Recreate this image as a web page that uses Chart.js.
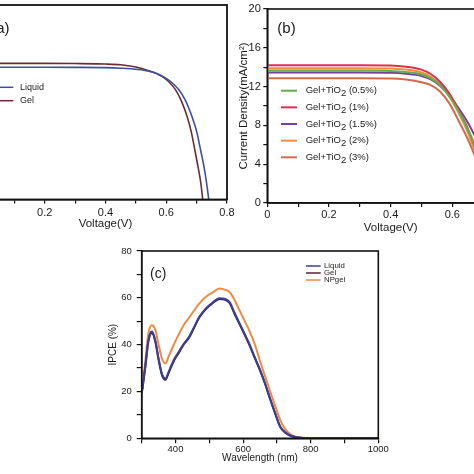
<!DOCTYPE html>
<html><head><meta charset="utf-8">
<script src="https://cdn.jsdelivr.net/npm/chart.js@4.4.1/dist/chart.umd.min.js"></script>
<style>
html,body{margin:0;padding:0;width:474px;height:474px;overflow:hidden;background:#fff}
body{position:relative}
canvas{position:absolute}
</style></head><body>
<canvas id="ca" width="307" height="232" style="left:-70px;top:0px"></canvas>
<canvas id="cb" width="299" height="240" style="left:225px;top:0px"></canvas>
<canvas id="cc" width="292" height="238" style="left:100px;top:236px"></canvas>
<script>
// ---------- Panel (a): J-V curves ----------
const voltsGelA    = [0,0.1,0.2,0.3,0.4,0.45,0.5,0.52,0.55,0.57,0.59,0.61,0.63,0.649,0.669,0.682,0.694,0.705,0.714,0.72];
const gelA         = [14.0,14.0,14.0,13.98,13.93,13.85,13.62,13.47,13.17,12.92,12.58,12.05,11.3,10.2,8.5,7.0,5.1,3.3,1.65,0];
const voltsLiquidA = [0,0.1,0.2,0.3,0.4,0.45,0.5,0.53,0.56,0.58,0.60,0.62,0.641,0.663,0.685,0.70,0.713,0.724,0.733,0.74];
const liquidA      = [13.6,13.6,13.6,13.59,13.56,13.5,13.4,13.28,13.05,12.8,12.45,11.98,11.3,10.2,8.5,7.0,5.1,3.4,1.65,0];
const seriesA = ['Liquid','Gel'];

// ---------- Panel (b): J-V curves with TiO2 ----------
const voltsB = [0,0.1,0.2,0.3,0.4,0.45,0.5,0.53,0.56,0.59,0.62,0.65,0.68,0.70,0.72,0.74];
const tio2_05 = [13.65,13.65,13.65,13.65,13.62,13.5,13.25,12.85,12.15,11.0,9.5,7.6,5.3,3.4,1.2,0];
const tio2_1  = [14.2,14.2,14.2,14.2,14.18,14.05,13.75,13.3,12.5,11.3,9.6,7.7,5.2,3.2,0.9,0];
const tio2_15 = [13.45,13.45,13.45,13.45,13.42,13.32,13.1,12.75,12.1,11.1,9.8,8.3,6.4,4.5,2.2,0];
const tio2_2  = [13.9,13.9,13.9,13.9,13.87,13.75,13.45,13.0,12.2,11.0,9.3,7.3,4.6,2.5,0.3,0];
const tio2_3  = [12.85,12.85,12.85,12.85,12.83,12.72,12.45,12.15,11.5,10.3,8.5,6.6,4.3,2.5,0.4,0];
const seriesB = ['Gel+TiO₂ (0.5%)','Gel+TiO₂ (1%)','Gel+TiO₂ (1.5%)','Gel+TiO₂ (2%)','Gel+TiO₂ (3%)'];

// ---------- Panel (c): IPCE ----------
const wavelength = [300,310,320,330,340,350,360,370,380,395,410,425,440,455,470,490,510,530,545,560,575,590,605,620,635,650,665,680,695,710,725,740,755,770,790,820,900,1000];
const ipceLiquid = [19.2,30,42,45.6,42,34,27.5,25.5,28.5,33.5,37,40.5,43.3,47.5,51.8,55.5,58,59.8,59.6,58.2,53.5,49,44.5,39.8,34.5,29.3,23.5,17,10.8,5.0,2.5,1.2,0.5,0.2,0.05,0,0,0];
const ipceGel    = [19.0,29.5,41.5,45.0,41.5,33.5,27,25,28,33,36.6,40.2,43,47.2,51.5,55.2,57.7,59.5,59.3,57.8,53.1,48.6,44.1,39.4,34.1,29,23.2,16.7,10.5,4.8,2.4,1.1,0.5,0.2,0.05,0,0,0];
const ipceNPgel  = [19.5,32,45,48.3,46.5,40,34,32,35,40,44.5,48.5,51.5,54.5,57.5,60.5,62.3,64,63.5,62.5,59,54.5,50,45.5,40,33,26.5,20,13.8,7.8,3.8,1.7,0.7,0.3,0.1,0,0,0];
const seriesC = ['Liquid','Gel','NPgel'];

const FONT = '"Liberation Sans", Arial, Helvetica, sans-serif';
const TXT = '#1a1a1a';
const pts = (xs, ys) => xs.map((x, i) => ({x, y: ys[i]}));

function drawLabel(ctx, text, x, y) {
  const parts = text.split('₂');
  let cx = x;
  ctx.textAlign = 'left';
  parts.forEach((p, i) => {
    ctx.fillText(p, cx, y); cx += ctx.measureText(p).width;
    if (i < parts.length - 1) { ctx.fillText('2', cx, y + 3); cx += ctx.measureText('2').width; }
  });
}

const framePlugin = {
  id: 'frame',
  afterDraw(chart, args, o) {
    const {ctx, chartArea: a} = chart;
    ctx.save();
    ctx.strokeStyle = '#111'; ctx.lineWidth = o.lw || 1.5;
    ctx.strokeRect(a.left, a.top, a.right - a.left, a.bottom - a.top);
    ctx.fillStyle = TXT; ctx.textBaseline = 'middle';
    ctx.font = o.labelFont + ' ' + FONT;
    ctx.textAlign = o.labelAlign || 'left';
    ctx.fillText(o.label, o.lx, o.ly);
    const L = o.legend;
    ctx.font = L.font + ' ' + FONT;
    chart.data.datasets.forEach((ds, i) => {
      const y = L.y0 + i * L.dy;
      ctx.strokeStyle = ds.legendColor || ds.borderColor; ctx.lineWidth = L.lw;
      ctx.beginPath(); ctx.moveTo(L.x0, y); ctx.lineTo(L.x1, y); ctx.stroke();
      ctx.fillStyle = TXT;
      drawLabel(ctx, ds.label, L.tx, y);
    });
    ctx.restore();
  }
};

function scale(min, max, step, labelFn, title, fontSize, fitSize, isX, tickPad, titlePad, tickLen) {
  return {
    type: 'linear', min, max,
    border: {display: true, color: '#111', width: 1.5},
    grid: {display: true, drawOnChartArea: false, drawTicks: true, tickLength: tickLen, color: '#111', tickColor: '#111', lineWidth: 1.2},
    ticks: {stepSize: step, autoSkip: false, maxRotation: 0, minRotation: 0, padding: tickPad, color: TXT,
            font: {family: FONT, size: fontSize}, callback: labelFn},
    title: {display: true, text: title, color: TXT, padding: titlePad, font: {family: FONT, size: fontSize + 0.5}},
    afterFit: s => {
      if (isX) s.height = fitSize; else s.width = fitSize;
      s.paddingTop = 0; s.paddingBottom = 0; s.paddingLeft = 0; s.paddingRight = 0;
    }
  };
}

const baseOpts = (padding) => ({
  responsive: false, animation: false, devicePixelRatio: 1,
  layout: {padding},
  plugins: {legend: {display: false}, tooltip: {enabled: false}},
  elements: {point: {radius: 0}, line: {cubicInterpolationMode: 'monotone'}}
});

const even02 = v => { const k = Math.round(v * 10); return (k % 2 === 0) ? (k === 0 ? '0' : (k / 10).toFixed(1)) : ''; };

// Panel (a)
{
  const o = baseOpts({top: 5, right: 10, bottom: 0, left: 0});
  o.scales = {
    x: scale(0, 0.8, 0.1, even02, 'Voltage(V)', 11, 32.5, true, 3, {top: 0, bottom: 1}, 4),
    y: scale(0, 20, 2, v => v % 4 === 0 ? String(v) : '', 'Current Density(mA/cm²)', 11, 54, false, 3, {top: 2, bottom: 0}, 4)
  };
  o.plugins.frame = {lw: 1.8, label: '(a)', labelFont: '15px', labelAlign: 'right', lx: 79.5, ly: 29,
    legend: {x0: 60, x1: 83.3, tx: 90, y0: 87.3, dy: 13.4, font: '9px', lw: 1.5}};
  new Chart(document.getElementById('ca'), {
    type: 'line',
    data: {datasets: [
      {label: seriesA[0], data: pts(voltsLiquidA, liquidA), borderColor: '#3e4fa2', borderWidth: 1.6},
      {label: seriesA[1], data: pts(voltsGelA, gelA), borderColor: '#6b2c33', borderWidth: 1.6}
    ]},
    options: o, plugins: [framePlugin]
  });
}

// Panel (b)
{
  const o = baseOpts({top: 9, right: 10, bottom: 0, left: 0});
  o.scales = {
    x: scale(0, 0.8, 0.1, even02, 'Voltage(V)', 11, 37, true, 1.5, {top: 0, bottom: 5.4}, 4),
    y: scale(0, 20, 2, v => v % 4 === 0 ? String(v) : '', 'Current Density(mA/cm²)', 11, 42.3, false, 2.5, {top: 12, bottom: 0}, 4)
  };
  o.plugins.frame = {lw: 1.6, label: '(b)', labelFont: '15px', lx: 52.3, ly: 29,
    legend: {x0: 56, x1: 72, tx: 80.7, y0: 90.7, dy: 16.65, font: '9.5px', lw: 2}};
  const cols = ['#5faf4b', '#df2f4e', '#7a3f9c', '#f08c3c', '#d5694a'];
  const ys = [tio2_05, tio2_1, tio2_15, tio2_2, tio2_3];
  new Chart(document.getElementById('cb'), {
    type: 'line',
    data: {datasets: ys.map((d, i) => ({label: seriesB[i], data: pts(voltsB, d), borderColor: cols[i], borderWidth: 2}))},
    options: o, plugins: [framePlugin]
  });
}

// Panel (c)
{
  const o = baseOpts({top: 15, right: 13.7, bottom: 0, left: 0});
  o.scales = {
    x: scale(300, 1000, 100, v => v % 200 === 0 ? String(v) : '', 'Wavelength (nm)', 9.5, 35.7, true, 0, {top: 0, bottom: 10}, 5),
    y: scale(0, 80, 10, v => v % 20 === 0 ? String(v) : '', 'IPCE (%)', 9.5, 41.7, false, 5, {top: 7, bottom: 0}, 5)
  };
  o.plugins.frame = {lw: 1.6, label: '(c)', labelFont: '14px', lx: 50, ly: 38,
    legend: {x0: 206, x1: 220.7, tx: 224, y0: 30, dy: 7, font: '7.8px', lw: 1.5}};
  new Chart(document.getElementById('cc'), {
    type: 'line',
    data: {datasets: [
      {label: seriesC[0], data: pts(wavelength, ipceLiquid), borderColor: '#3a3f98', borderWidth: 2},
      {label: seriesC[1], data: pts(wavelength, ipceGel), borderColor: '#3b1d45', legendColor: '#5a2236', borderWidth: 2},
      {label: seriesC[2], data: pts(wavelength, ipceNPgel), borderColor: '#ef8a3f', borderWidth: 2}
    ]},
    options: o, plugins: [framePlugin]
  });
}
</script>
</body></html>
